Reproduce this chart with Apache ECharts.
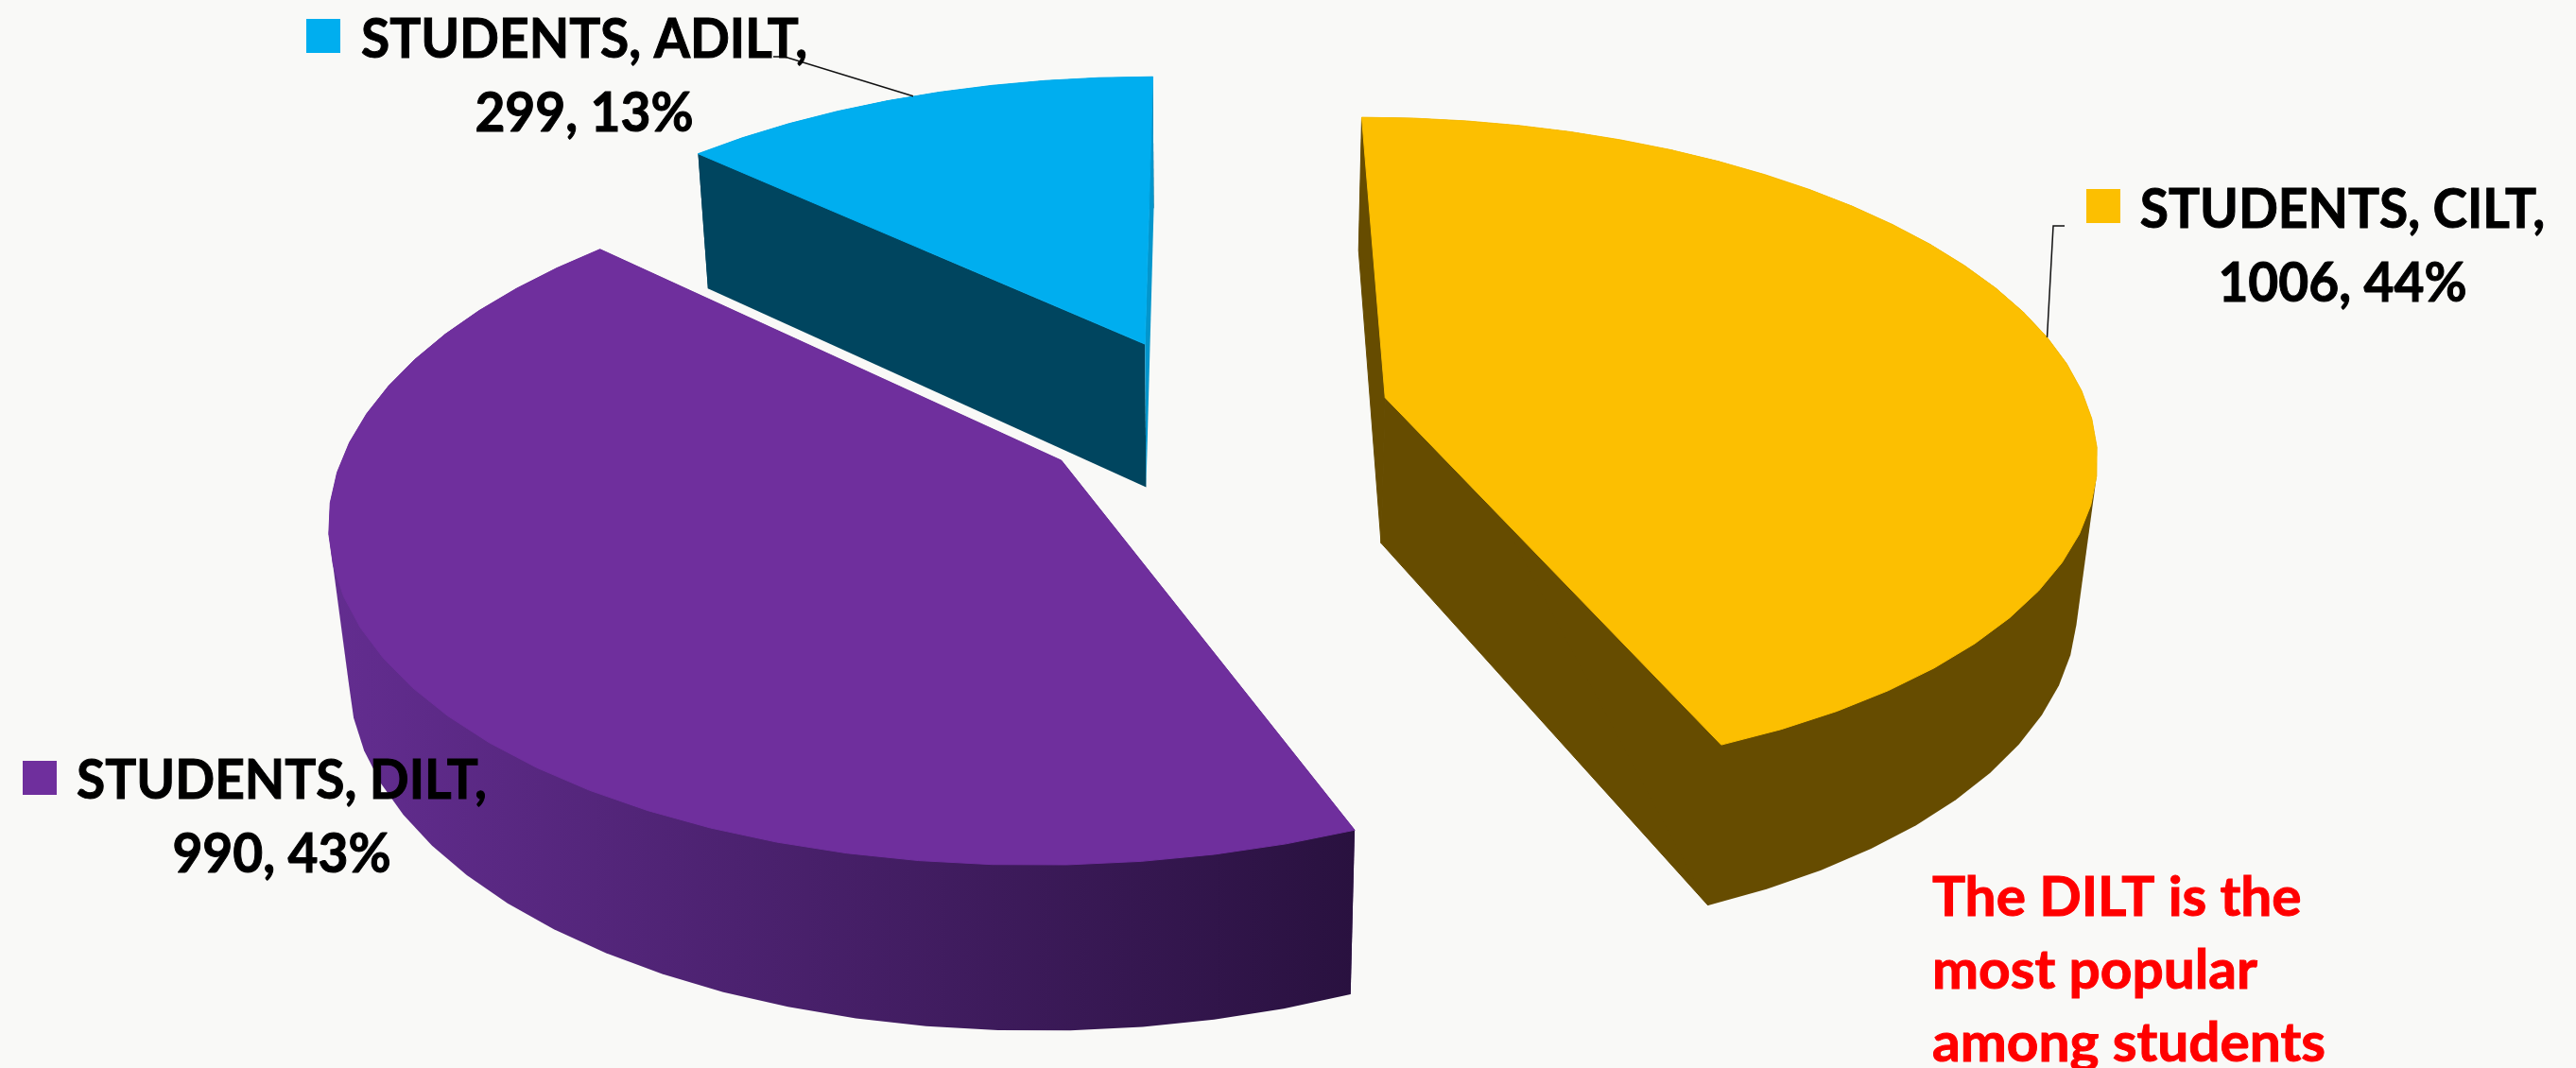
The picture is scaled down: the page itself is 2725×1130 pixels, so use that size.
<!DOCTYPE html>
<html>
<head>
<meta charset="utf-8">
<style>html,body{margin:0;padding:0;background:#f9f9f7}#c{width:2725px;height:1130px}</style>
<script src="https://cdn.jsdelivr.net/npm/echarts@6/dist/echarts.min.js"></script>
</head>
<body>
<div id="c"></div>
<script>
// ---- data ----
const seriesName = 'STUDENTS';
const categories = ['CILT', 'DILT', 'ADILT'];
const values = [1006, 990, 299];
const note = 'The DILT is the\nmost popular\namong students';

// ---- style ----
const topColors = ['#fcbf01', '#6f2f9d', '#00aeef'];
const bgColor = '#f9f9f7';
const keyColors = ['#fcbf01', '#6f2f9d', '#00aeef'];
const explode = [0.26, 0.245, 0.24];
const nudgeX = [0, 0, 0.005];
const labelFont = 'bold 58px Lato';
const textScaleX = 0.95;

// projection of the tilted pie plane (drawn at 1568 wide, scaled to the page)
const S = 2725 / 1568;
const P = {cx: 734.5, A: 429, yh: -1060, B: 1312, g: 0.152, vx: 731, vy: 4300};
function project(X, Z) {
  const w = 1 + P.g * Z;
  return [P.cx + P.A * X / w, P.yh + P.B / w];
}
function drop(p) {
  const h = 80 + 0.0435 * (p[1] - 46);
  return [p[0] + (P.vx - p[0]) * h / (P.vy - p[1]), p[1] + h];
}
const scale = p => [p[0] * S, p[1] * S];
const total = values.reduce((a, b) => a + b, 0);

function sliceAngles(i) {
  let start = 0;
  for (let k = 0; k < i; k++) start += values[k] / total * 2 * Math.PI;
  return [start, start + values[i] / total * 2 * Math.PI];
}
function sliceOffset(i) {
  const [a0, a1] = sliceAngles(i), m = (a0 + a1) / 2;
  return [explode[i] * Math.sin(m) + nudgeX[i], explode[i] * Math.cos(m)];
}
function arcPoint(i, a) {
  const o = sliceOffset(i);
  return project(o[0] + Math.sin(a), o[1] + Math.cos(a));
}
function arcPoints(i) {
  const [a0, a1] = sliceAngles(i);
  const n = Math.max(2, Math.round((a1 - a0) / (5 * Math.PI / 180)));
  const pts = [];
  for (let k = 0; k <= n; k++) pts.push(arcPoint(i, a0 + (a1 - a0) * k / n));
  return pts;
}
// outline of the side wall: the silhouette of the top and bottom rims
function hull(points) {
  const p = points.slice().sort((a, b) => a[0] - b[0] || a[1] - b[1]);
  const cross = (o, a, b) => (a[0] - o[0]) * (b[1] - o[1]) - (a[1] - o[1]) * (b[0] - o[0]);
  const lo = [], up = [];
  p.forEach(q => {
    while (lo.length > 1 && cross(lo[lo.length - 2], lo[lo.length - 1], q) <= 0) lo.pop();
    lo.push(q);
  });
  p.slice().reverse().forEach(q => {
    while (up.length > 1 && cross(up[up.length - 2], up[up.length - 1], q) <= 0) up.pop();
    up.push(q);
  });
  return lo.slice(0, -1).concat(up.slice(0, -1));
}
const poly = (pts, fill, z2, edge) => ({
  type: 'polygon', z2: z2,
  shape: {points: pts.map(scale)},
  style: {fill: fill, stroke: edge || null, lineWidth: edge ? 1 : 0}
});

const wallFill = [
  '#664c00',
  new echarts.graphic.LinearGradient(0, 0, 1, 0, [
    {offset: 0, color: '#632d90'}, {offset: 1, color: '#29113f'}
  ]),
  '#00455f'
];
const startFaceFill = ['#664c00', '#3a1a55', '#00455f'];
const endFaceFill = ['#664c00', '#3a1a55', '#0396cc'];
const faceEdge = ['#664c00', null, null];
const wallOrder = [2, 2, 0];

function renderSlice(params, api) {
  const i = params.dataIndex;
  api.value(0);
  const off = sliceOffset(i);
  const apex = project(off[0], off[1]);
  const arc = arcPoints(i);
  const first = arc[0], last = arc[arc.length - 1];
  const children = [
    poly(hull(arc.concat(arc.map(drop))), wallFill[i], wallOrder[i]),
    poly([apex, first, drop(first), drop(apex)], startFaceFill[i], 1, faceEdge[i]),
    poly([apex, last, drop(last), drop(apex)], endFaceFill[i], 1, faceEdge[i]),
    poly([apex].concat(arc), topColors[i], 3, topColors[i])
  ];
  return {type: 'group', children: children};
}

// label layout: key box, text centre + top, optional leader bend points
const labelLayout = [
  {key: [2207, 200, 36, 36], tx: 2478, ty: 183, leader: [[2172, 239], [2184, 239]]},
  {key: [24, 805, 36, 36], tx: 298, ty: 787, leader: null},
  {key: [324, 20, 36, 36], tx: 618, ty: 3, leader: [[830, 60], [818, 60]]}
];
function renderLabel(params, api) {
  const i = params.dataIndex;
  const v = api.value(0);
  const L = labelLayout[i];
  const pct = Math.round(v / total * 100);
  const children = [
    {type: 'rect', shape: {x: L.key[0], y: L.key[1], width: L.key[2], height: L.key[3]},
     style: {fill: keyColors[i]}},
    {type: 'text', z2: 5, scaleX: textScaleX, originX: L.tx, style: {
      x: L.tx, y: L.ty, align: 'center', verticalAlign: 'top',
      text: seriesName + ', ' + categories[i] + ',\n' + v + ', ' + pct + '%',
      font: labelFont, lineHeight: 78, fill: '#000000', stroke: '#000000', lineWidth: 1
    }}
  ];
  if (L.leader) {
    const [a0, a1] = sliceAngles(i);
    const m = scale(arcPoint(i, (a0 + a1) / 2));
    children.push({type: 'polyline', z2: 4,
      shape: {points: [m].concat(L.leader)},
      style: {stroke: '#111111', lineWidth: 1.5, fill: null}});
  }
  return {type: 'group', children: children};
}

const chart = echarts.init(document.getElementById('c'), null, {renderer: 'canvas'});
chart.setOption({
  animation: false,
  backgroundColor: bgColor,
  series: [
    {type: 'custom', coordinateSystem: 'none', name: seriesName, z: 2, silent: true,
     data: values, renderItem: renderSlice},
    {type: 'custom', coordinateSystem: 'none', name: 'labels', z: 5, silent: true,
     data: values, renderItem: renderLabel}
  ],
  graphic: [{
    type: 'text', z: 10, silent: true, x: 2044, y: 912, scaleX: 1.01,
    style: {text: note, font: labelFont, lineHeight: 77, fill: '#ff0000', stroke: '#ff0000', lineWidth: 1}
  }]
});
</script>
</body>
</html>
